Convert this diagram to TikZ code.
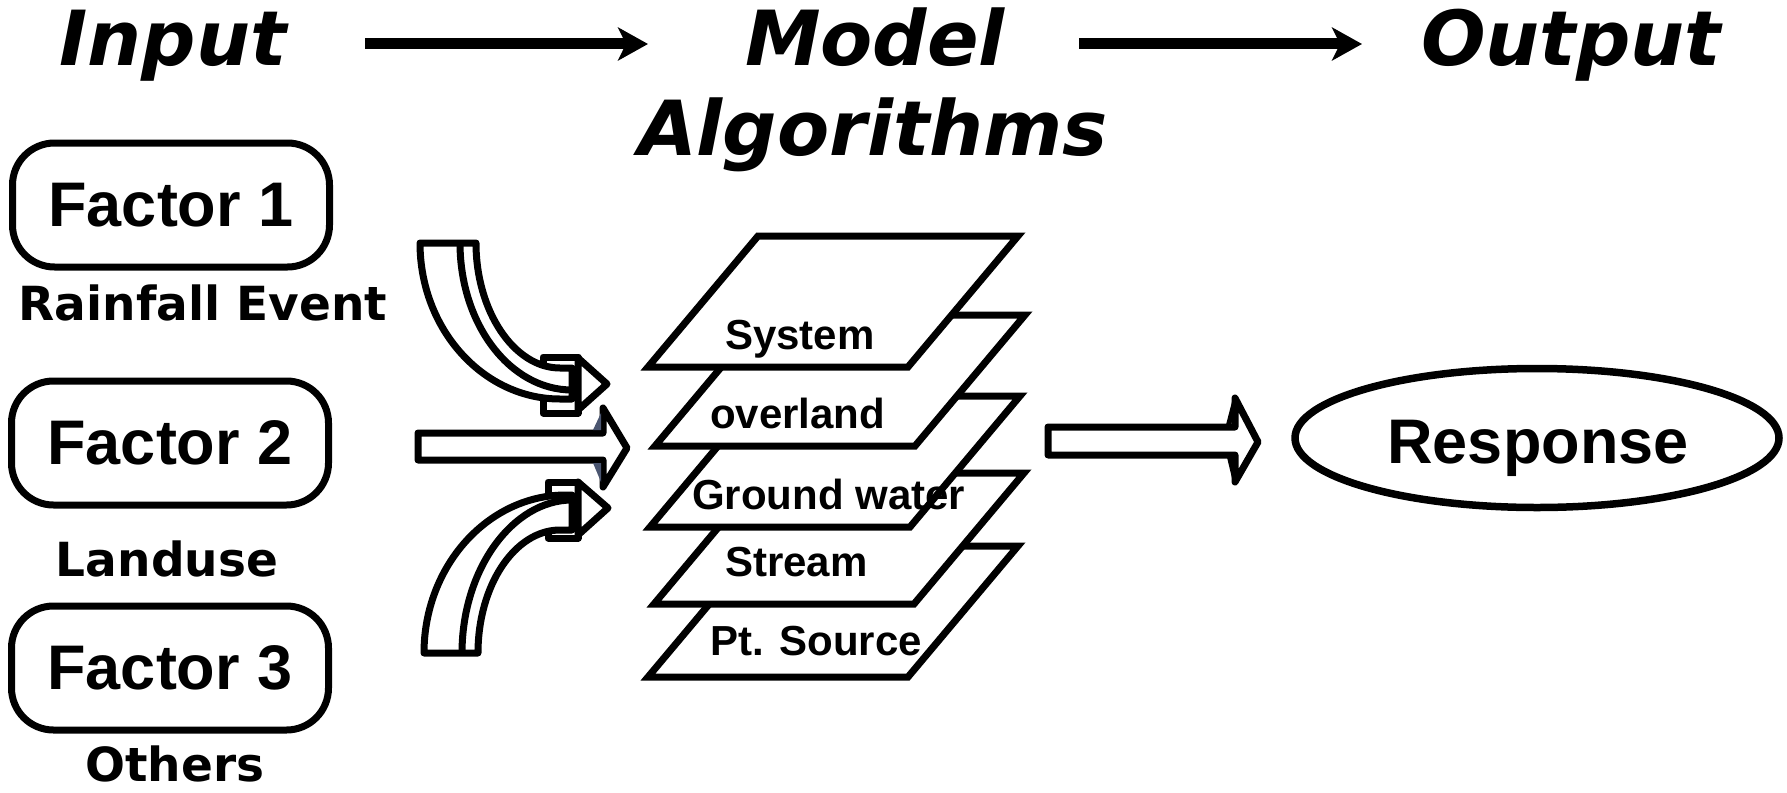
\documentclass[tikz,border=0pt]{standalone}
\usepackage{fontspec}
\setmainfont{Liberation Sans}
\newfontfamily\vfont{DejaVu Sans}
\usetikzlibrary{arrows.meta,shapes.geometric}
\definecolor{slate}{HTML}{4A5570}
\newcommand\mylayer[2]{%
  \draw[layerbox] (#1,#2) -- ++(260,0) -- ++(110,-131) -- ++(-260,0) -- cycle;}
\begin{document}
\begin{tikzpicture}[x=1pt,y=-1pt,
  blk/.style={line width=7pt, draw=black, fill=white, line join=round},
  layerbox/.style={line width=7pt, draw=black, fill=white, line join=miter},
  titletext/.style={font=\vfont\bfseries\itshape\fontsize{76}{89}\selectfont, anchor=base, inner sep=0pt},
  labeltext/.style={font=\vfont\bfseries\fontsize{47}{56}\selectfont, anchor=base, inner sep=0pt},
  factorbox/.style={draw, line width=7pt, rounded corners=42pt, minimum width=317pt, minimum height=124pt,
    font=\bfseries\fontsize{63}{70}\selectfont, inner sep=0pt},
  layertext/.style={font=\bfseries\fontsize{42}{48}\selectfont, anchor=base west, inner sep=0pt},
  titlearrow/.style={line width=11pt, -{Stealth[length=30pt, width=33pt, inset=8pt]}},
]
\useasboundingbox (0,0) rectangle (1787,792);

% titles
\node[titletext] (input) at (173,66) {Input};
\node[titletext] (model) at (875,66) {Model};
\node[titletext] (algo) at (873,155) {Algorithms};
\node[titletext] (output) at (1571,66) {Output};
\coordinate (a1s) at (365,44);
\coordinate (a1e) at (648,44);
\coordinate (a2s) at (1079,44);
\coordinate (a2e) at (1362,44);
\draw[titlearrow] (a1s) -- (a1e);
\draw[titlearrow] (a2s) -- (a2e);

% factors
\node[factorbox] (f1) at (171,205) {Factor 1};
\node[factorbox] (f2) at (170,443) {Factor 2};
\node[factorbox] (f3) at (170,668) {Factor 3};
\node[labeltext] (l1) at (203,320) {Rainfall Event};
\node[labeltext] (l2) at (167,576) {Landuse};
\node[labeltext] (l3) at (175,781) {Others};

% top curved arrow
\draw[blk] (543,357) rectangle (578,413);
\draw[blk] (420,243) .. controls (420,329) and (483,399) .. (560,399) -- (572,399)
  -- (572,368) -- (560,368) .. controls (514,368) and (476,311) .. (476,243) -- cycle;
\draw[line width=7pt] (460,243) .. controls (460,324) and (510,390) .. (572,390);
\draw[blk] (578,358) -- (607,384) -- (578,410) -- cycle;

% bottom curved arrow
\draw[blk] (548,482) rectangle (578,538);
\draw[blk] (424,653) .. controls (424,566) and (488,495) .. (566,495) -- (572,495)
  -- (572,530) -- (560,530) .. controls (515,530) and (478,585) .. (478,653) -- cycle;
\draw[line width=7pt] (462,653) .. controls (462,569) and (513,500) .. (572,500);
\draw[blk] (578,482) -- (608,508) -- (578,535) -- cycle;

% straight arrow left
\draw[blk] (418,433) -- (603,433) -- (603,408) -- (627,448) -- (603,487) -- (603,460) -- (418,460) -- cycle;
\fill[slate] (593,430) -- (601,413) -- (601,430) -- cycle;
\fill[slate] (593,463) -- (601,482) -- (601,463) -- cycle;

% stacked layers
\mylayer{648}{677}
\mylayer{654}{604}
\mylayer{650}{527}
\mylayer{655}{446}
\mylayer{648}{367}
\node[layertext] (sys) at (725,349) {System};
\node[layertext] (ovl) at (710,428) {overland};
\node[layertext] (gw) at (692,509) {Ground water};
\node[layertext] (str) at (725,576) {Stream};
\node[layertext] (pts) at (710,655) {Pt. Source};

% straight arrow right
\draw[blk] (1048,427) -- (1235,427) -- (1235,398) -- (1258,442) -- (1235,482) -- (1235,455) -- (1048,455) -- cycle;
\draw[line width=5pt, line join=round] (1228,427) -- (1235,400);
\draw[line width=5pt, line join=round] (1229,455) -- (1235,480);

% response
\node[draw, ellipse, line width=7.5pt, minimum width=484pt, minimum height=139pt, inner sep=0pt] (resp) at (1537,438) {};
\node[font=\bfseries\fontsize{63}{70}\selectfont, anchor=base, inner sep=0pt] (resptext) at (1538,463) {Response};
\end{tikzpicture}
\end{document}
